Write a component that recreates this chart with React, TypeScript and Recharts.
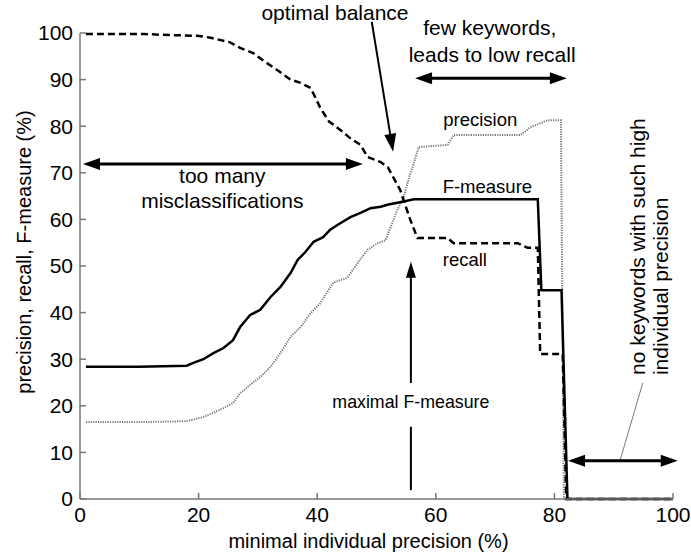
import React from "react";
import { LineChart, Line, XAxis, YAxis, ReferenceLine, ReferenceDot } from "recharts";

// minimal individual precision (%) and curve values (%)
const recallX = [1, 10.7, 14, 19.8, 22, 25.3, 27, 29.2, 31, 33.3, 35.5, 37.2, 38.9, 40.5, 42, 43.9, 45.5, 47.3, 48.5, 50.7, 51.9, 54, 55.7, 56.9, 62, 63, 73.8, 75.5, 77.2, 77.6, 81.4, 82, 100];
const recallY = [99.8, 99.8, 99.6, 99.4, 99, 98, 96.8, 95.7, 94, 92, 90, 89.3, 88.2, 84, 81, 79.2, 77.5, 76, 73.4, 72.3, 71.2, 66.3, 59.9, 56, 56, 54.9, 54.9, 53.9, 53.9, 31.1, 31.1, 0, 0];

const fX = [1, 10, 18, 19.1, 20.8, 22.5, 24.2, 25.8, 27, 28.7, 30.4, 32.1, 33.8, 35.5, 36.7, 38, 39.4, 41, 42.2, 43.4, 45.6, 47.3, 49, 50.7, 52, 54, 56.3, 77.2, 77.8, 81.2, 82.2, 100];
const fY = [28.4, 28.4, 28.6, 29.2, 30, 31.3, 32.4, 34.1, 36.9, 39.5, 40.6, 43.3, 45.5, 48.5, 51.3, 53, 55.2, 56.2, 57.8, 58.8, 60.5, 61.4, 62.4, 62.7, 63.2, 63.7, 64.3, 64.3, 44.8, 44.8, 0, 0];

const precX = [1, 10, 18, 20.8, 22.5, 24.2, 25.8, 27, 28.7, 30.4, 32.1, 33.8, 35.5, 37.2, 38.9, 40.5, 42.7, 45.1, 47.3, 48.5, 50.2, 51.5, 52.4, 53.5, 54.6, 55.5, 56.3, 57.1, 62, 63, 74.3, 76, 78.9, 81.1, 81.6, 100];
const precY = [16.5, 16.5, 16.7, 17.6, 18.5, 19.5, 20.6, 22.7, 24.5, 26.2, 28.3, 31.3, 34.8, 36.9, 39.9, 42, 46.4, 47.5, 51.5, 53.5, 54.9, 55.5, 58.4, 62, 64.8, 69, 72.1, 75.5, 76, 78.1, 78.1, 79.8, 81.3, 81.3, 0, 0];

const xTicks = [0, 20, 40, 60, 80, 100];
const yTicks = [0, 10, 20, 30, 40, 50, 60, 70, 80, 90, 100];

const zip = (xs: number[], ys: number[]) => xs.map((x, i) => ({ x, y: ys[i] }));
const recall = zip(recallX, recallY);
const fmeasure = zip(fX, fY);
const precision = zip(precX, precY);

const FONT = "'Liberation Sans', Arial, sans-serif";

// line with optional filled arrow heads at either end
const arrow = (startHead: boolean, endHead: boolean, w = 2.5, hl = 17, hw = 6, color = "#000") => (p: any) => {
  const { x1, y1, x2, y2 } = p;
  const len = Math.hypot(x2 - x1, y2 - y1) || 1;
  const ux = (x2 - x1) / len;
  const uy = (y2 - y1) / len;
  const nx = -uy;
  const ny = ux;
  const head = (tx: number, ty: number, dir: number) => {
    const bx = tx - dir * ux * hl;
    const by = ty - dir * uy * hl;
    return `${tx},${ty} ${bx + nx * hw},${by + ny * hw} ${bx - nx * hw},${by - ny * hw}`;
  };
  const sx = startHead ? x1 + ux * hl * 0.8 : x1;
  const sy = startHead ? y1 + uy * hl * 0.8 : y1;
  const ex = endHead ? x2 - ux * hl * 0.8 : x2;
  const ey = endHead ? y2 - uy * hl * 0.8 : y2;
  return (
    <g>
      <line x1={sx} y1={sy} x2={ex} y2={ey} stroke={color} strokeWidth={w} />
      {startHead && <polygon points={head(x1, y1, -1)} fill={color} />}
      {endHead && <polygon points={head(x2, y2, 1)} fill={color} />}
    </g>
  );
};

const seg = (a: [number, number], b: [number, number], shape: any) => (
  <ReferenceLine segment={[{ x: a[0], y: a[1] }, { x: b[0], y: b[1] }]} ifOverflow="visible" shape={shape} />
);

const note = (x: number, y: number, text: string, size = 21, rotate = false) => (
  <ReferenceDot
    x={x}
    y={y}
    r={0}
    ifOverflow="visible"
    shape={(p: any) => (
      <text
        x={p.cx}
        y={p.cy}
        textAnchor={rotate ? "start" : "middle"}
        transform={rotate ? `rotate(-90 ${p.cx} ${p.cy})` : undefined}
        fontSize={size}
        fontFamily={FONT}
        fill="#000"
      >
        {text}
      </text>
    )}
  />
);

export default function App() {
  return (
    <div style={{ position: "absolute", left: 0, top: 0, width: 691, height: 555, background: "#fff" }}>
      <LineChart width={691} height={555} margin={{ top: 33, right: 18, bottom: 0, left: 0 }}>
        <XAxis
          type="number"
          dataKey="x"
          domain={[0, 100]}
          ticks={xTicks}
          height={56}
          tickSize={-6}
          tickMargin={14}
          axisLine={{ stroke: "#777", strokeWidth: 1.5 }}
          tickLine={{ stroke: "#777", strokeWidth: 1.5 }}
          tick={{ fill: "#000", fontSize: 21, fontFamily: FONT }}
          label={{
            content: (p: any) => (
              <text x={p.viewBox.x + p.viewBox.width / 2 - 8} y={p.viewBox.y + 49} textAnchor="middle" fontSize={20} fontFamily={FONT} fill="#000">
                minimal individual precision (%)
              </text>
            ),
          }}
        />
        <YAxis
          type="number"
          domain={[0, 100]}
          ticks={yTicks}
          width={80}
          tickSize={-6}
          tickMargin={13}
          axisLine={{ stroke: "#777", strokeWidth: 1.5 }}
          tickLine={{ stroke: "#777", strokeWidth: 1.5 }}
          tick={{ fill: "#000", fontSize: 21, fontFamily: FONT }}
          label={{
            content: (p: any) => {
              const cx = p.viewBox.x + 31;
              const cy = p.viewBox.y + p.viewBox.height / 2 - 14;
              return (
                <text x={cx} y={cy} textAnchor="middle" transform={`rotate(-90 ${cx} ${cy})`} fontSize={20} fontFamily={FONT} fill="#000">
                  precision, recall, F-measure (%)
                </text>
              );
            },
          }}
        />
        <Line data={precision} dataKey="y" type="linear" stroke="#777" strokeWidth={2} strokeDasharray="1.2 1.2" dot={false} isAnimationActive={false} />
        <Line data={recall} dataKey="y" type="linear" stroke="#000" strokeWidth={2.5} strokeDasharray="7 4" dot={false} isAnimationActive={false} />
        <Line data={fmeasure} dataKey="y" type="linear" stroke="#000" strokeWidth={2.5} dot={false} isAnimationActive={false} />

        {note(43, 102.8, "optimal balance")}
        {seg([49.2, 102.4], [52.8, 74.5], arrow(false, true, 2, 18, 6))}

        {note(69.1, 99.6, "few keywords,")}
        {note(69.5, 93.8, "leads to low recall")}
        {seg([56.5, 90.3], [82.1, 90.3], arrow(true, true, 3, 17, 6))}

        {note(24, 67.8, "too many")}
        {note(24, 62.4, "misclassifications")}
        {seg([0.5, 71.9], [47.7, 71.9], arrow(true, true, 3, 17, 6))}

        {note(67.5, 80.0, "precision", 18.5)}
        {note(68.7, 65.7, "F-measure", 18.5)}
        {note(64.9, 50.0, "recall", 18.5)}

        {note(55.8, 19.5, "maximal F-measure", 17.8)}
        {seg([55.8, 1.9], [55.8, 15.5], arrow(false, false, 2))}
        {seg([55.8, 24.9], [55.8, 50.9], arrow(false, true, 2, 16, 5))}

        {note(95.3, 26.6, "no keywords with such high", 21, true)}
        {note(99.2, 26.6, "individual precision", 21, true)}
        {seg([94.9, 24.9], [91.1, 8.4], arrow(false, false, 1, 0, 0, "#777"))}
        {seg([82.3, 8.2], [100.8, 8.2], arrow(true, true, 3, 17, 6))}
      </LineChart>
    </div>
  );
}
